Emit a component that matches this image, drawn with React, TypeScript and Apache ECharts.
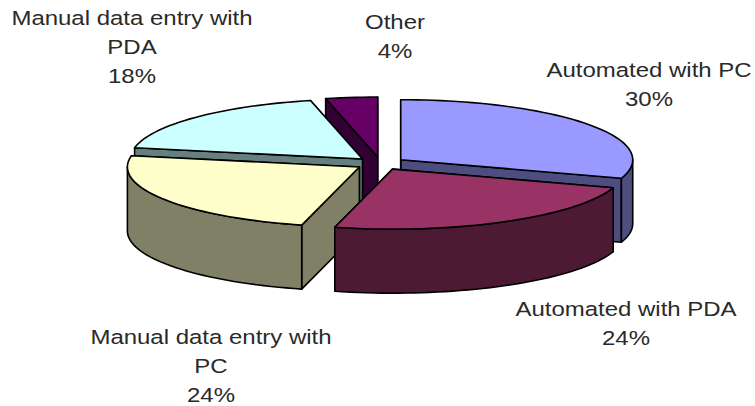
import React, { useEffect, useRef } from "react";
import * as echarts from "echarts";

const categories = ["Automated with PC", "Automated with PDA", "Manual data entry with PC", "Manual data entry with PDA", "Other"];
const values = [30, 24, 24, 18.4, 3.6];
const percentLabels = ["30%", "24%", "24%", "18%", "4%"];
const wrappedNames = ["Automated with PC", "Automated with PDA", "Manual data entry with\nPC", "Manual data entry with\nPDA", "Other"];
const topColors = ["#9999FF", "#993366", "#FFFFCC", "#CCFFFF", "#660066"];
const sideColors = ["#4D4D80", "#4D1A33", "#808066", "#668080", "#330033"];
const drawOrder = [4, 3, 0, 2, 1];
const labelCenters = [[649, 70], [626, 309], [211, 337], [132, 18], [395, 22]];

const BASE = [380.5, 163.5];
const RX = 232;
const RY = 60;
const DEPTH = 64;
const EXPLODE = 25;
const total = values.reduce((a, b) => a + b, 0);
const RAD = Math.PI / 180;

function startAngle(i: number) {
  let s = 0;
  for (let k = 0; k < i; k++) s += values[k];
  return (s / total) * 360;
}
function rim(cx: number, cy: number, deg: number) {
  return [cx + RX * Math.sin(deg * RAD), cy - RY * Math.cos(deg * RAD)];
}
function arc(cx: number, cy: number, a: number, b: number) {
  const pts: number[][] = [];
  const n = Math.max(2, Math.ceil(Math.abs(b - a) / 2));
  for (let k = 0; k <= n; k++) pts.push(rim(cx, cy, a + ((b - a) * k) / n));
  return pts;
}
const down = (p: number[]) => [p[0], p[1] + DEPTH];

function renderSlice(_params: any, api: any) {
  const i = api.value(0) as number;
  const a = startAngle(i);
  const b = a + (api.value(1) / total) * 360;
  const mid = ((a + b) / 2) * RAD;
  const cx = BASE[0] + EXPLODE * Math.sin(mid);
  const cy = BASE[1] - (EXPLODE * RY * Math.cos(mid)) / RX;
  const apex = [cx, cy];
  const line = { stroke: "#000", lineWidth: 1.6, lineJoin: "round" };
  const poly = (points: number[][], fill: string) => ({
    type: "polygon",
    shape: { points },
    style: { ...line, fill },
  });
  const wall = (deg: number) => {
    const p = rim(cx, cy, deg);
    return poly([apex, p, down(p), down(apex)], sideColors[i]);
  };
  const children: any[] = [wall(b), wall(a)];
  const oa = Math.max(a, 90);
  const ob = Math.min(b, 270);
  if (ob > oa) {
    const top = arc(cx, cy, oa, ob);
    children.push(poly([...top, ...top.slice().reverse().map(down)], sideColors[i]));
  }
  children.push(poly([apex, ...arc(cx, cy, a, b)], topColors[i]));
  return { type: "group", children };
}

export default function App() {
  const ref = useRef<HTMLDivElement>(null);
  useEffect(() => {
    document.body.style.margin = "0";
    const chart = echarts.init(ref.current!, null, { renderer: "svg" });
    chart.setOption({
      animation: false,
      backgroundColor: "#fff",
      series: [
        {
          type: "custom",
          coordinateSystem: "none",
          renderItem: renderSlice,
          data: drawOrder.map((i) => [i, values[i]]),
          silent: true,
        },
      ],
      graphic: categories.map((_, i) => ({
        type: "text",
        x: labelCenters[i][0],
        y: labelCenters[i][1] - 14,
        scaleX: 1.17,
        style: {
          text: wrappedNames[i] + "\n" + percentLabels[i],
          fontFamily: "Liberation Sans",
          fontSize: 20.5,
          lineHeight: 29,
          fill: "#2a2a2a",
          align: "center",
          verticalAlign: "top",
        },
      })),
    });
    return () => chart.dispose();
  }, []);
  return <div ref={ref} style={{ width: 755, height: 406 }} />;
}
